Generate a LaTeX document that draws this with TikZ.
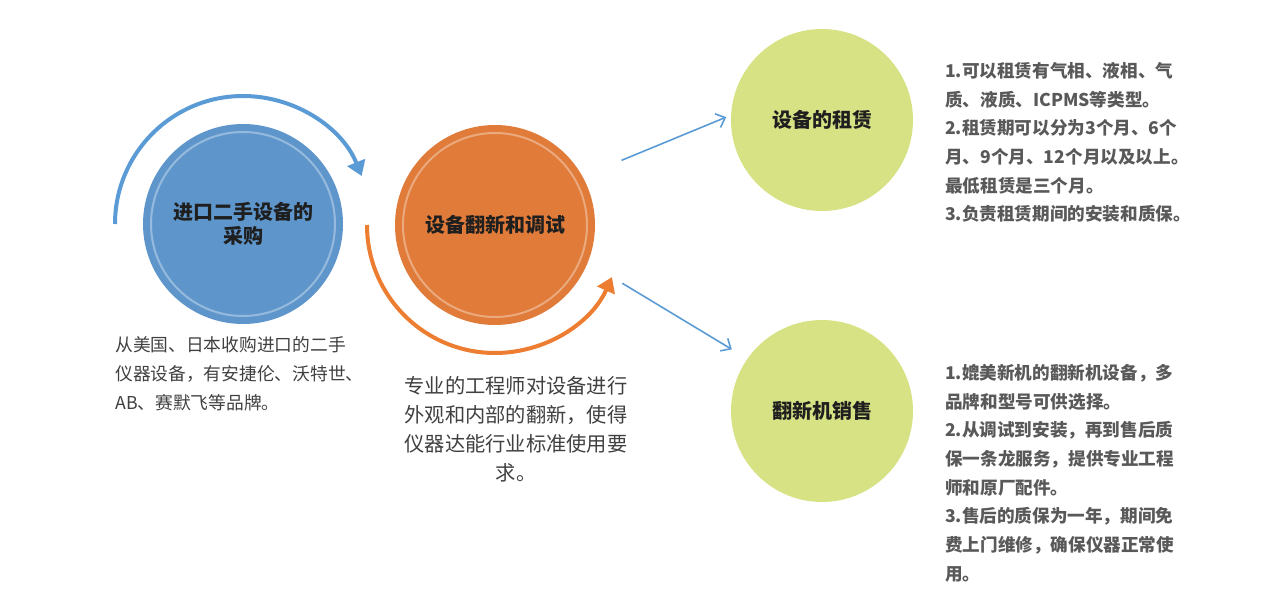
\documentclass[tikz,border=0pt]{standalone}
\usepackage{fontspec}
\newfontfamily\cjk{Noto Sans CJK SC}
\usepackage{xcolor}
\definecolor{mblue}{HTML}{5E96CB}
\definecolor{mbluearc}{HTML}{5B9BD5}
\definecolor{morange}{HTML}{E17B3A}
\definecolor{morangearc}{HTML}{ED7D31}
\definecolor{mgreen}{HTML}{D7E285}
\definecolor{mtext}{HTML}{404040}
\definecolor{mgray}{HTML}{595959}
\usetikzlibrary{arrows.meta}

\begin{document}
\begin{tikzpicture}[x=0.75pt, y=0.75pt,
    ball/.style={circle, minimum size=150pt, inner sep=0pt, align=center, text=black!88,
      font=\cjk\bfseries\fontsize{15}{18}\selectfont},
    smallball/.style={ball, minimum size=136.5pt, fill=mgreen},
    ring/.style={white, opacity=0.35, line width=1.5pt},
    turn/.style={line width=3pt, -{Triangle[width=14pt,length=11pt]}},
    link/.style={mbluearc, line width=1.2pt, -{Straight Barb[length=6pt,width=11pt]}},
    note/.style={inner sep=0pt, anchor=north west, align=left, text=mgray,
      font=\cjk\bfseries\fontsize{13.2}{21.5}\selectfont},
    desc/.style={inner sep=0pt, text=mtext, font=\cjk\fontsize{13.3}{21.75}\selectfont}]
        \useasboundingbox (0,0) rectangle (1286,608);

        \node[ball, fill=mblue] (buy) at (243,384) {进口二手设备的\\采购};
        \node[ball, fill=morange] (fix) at (495,383) {设备翻新和调试};
        \node[smallball] (rent) at (822,488) {设备的租赁};
        \node[smallball] (sale) at (822,197) {翻新机销售};
        \draw[ring] (buy.center) circle (92);
        \draw[ring] (fix.center) circle (92);

        \draw[turn, mbluearc] (buy.center) ++(180:128) arc[start angle=180, end angle=22, radius=128];
        \draw[turn, morangearc] (fix.center) ++(180:128) arc[start angle=180, end angle=336, radius=128];
        \draw[link, shorten <=31.5pt, shorten >=3.75pt] (fix.29) -- (rent.177);
        \draw[link, shorten <=30pt, shorten >=13.5pt] (fix.-22) -- (sale.145);

        \node[desc, anchor=north west, align=left] (buytxt) at (115,272)
            {从美国、日本收购进口的二手\\仪器设备，有安捷伦、沃特世、\\AB、赛默飞等品牌。};
        \node[desc, anchor=north, align=center, font=\cjk\fontsize{15.2}{21.75}\selectfont] (fixtxt) at (516,232)
            {专业的工程师对设备进行\\外观和内部的翻新，使得\\仪器达能行业标准使用要\\求。};
        \node[note] (renttxt) at (945,546)
            {1.可以租赁有气相、液相、气\\质、液质、ICPMS等类型。\\2.租赁期可以分为3个月、6个\\月、9个月、12个月以及以上。\\最低租赁是三个月。\\3.负责租赁期间的安装和质保。};
        \node[note] (saletxt) at (945,244)
            {1.媲美新机的翻新机设备，多\\品牌和型号可供选择。\\2.从调试到安装，再到售后质\\保一条龙服务，提供专业工程\\师和原厂配件。\\3.售后的质保为一年，期间免\\费上门维修，确保仪器正常使\\用。};
    \end{tikzpicture}
\end{document}
